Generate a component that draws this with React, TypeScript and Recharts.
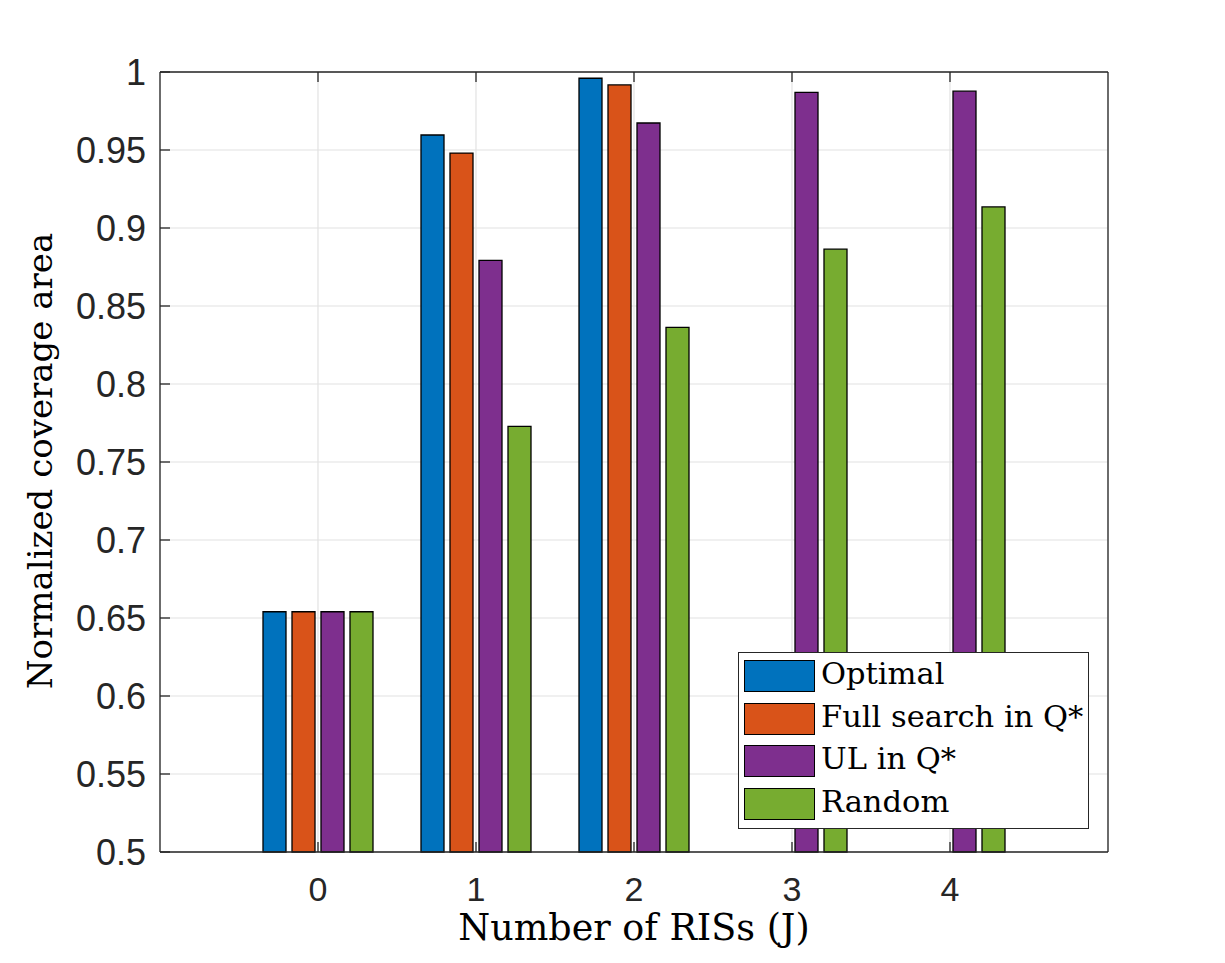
import React from 'react';
import { BarChart, Bar, XAxis, YAxis, CartesianGrid, Legend, Label } from 'recharts';

const categories = ['0', '1', '2', '3', '4'];
const optimal = [0.654, 0.9596, 0.996, null, null];
const fullSearch = [0.654, 0.948, 0.9917, null, null];
const ulInQ = [0.654, 0.8793, 0.9673, 0.987, 0.9877];
const random = [0.654, 0.7729, 0.8363, 0.8864, 0.9135];
const yTicks = [0.5, 0.55, 0.6, 0.65, 0.7, 0.75, 0.8, 0.85, 0.9, 0.95, 1];
const seriesNames = ['Optimal', 'Full search in Q*', 'UL in Q*', 'Random'];
const seriesKeys = ['optimal', 'fullSearch', 'ulInQ', 'random'];
const seriesColors = ['#0072BD', '#D95319', '#7E2F8E', '#77AC30'];

const data = categories.map((c, i) => ({
  cat: c,
  optimal: optimal[i],
  fullSearch: fullSearch[i],
  ulInQ: ulInQ[i],
  random: random[i],
}));

const AXIS = '#262626';
const sans = '"Liberation Sans", Arial, sans-serif';
const yTickStyle = { fontFamily: sans, fontSize: 36, fill: AXIS };
const xTickStyle = { fontFamily: sans, fontSize: 34, fill: AXIS };
const serif = '"DejaVu Serif", serif';

const renderLegend = (props: any) => {
  const payload = [...(props.payload || [])].sort(
    (a: any, b: any) => seriesNames.indexOf(a.value) - seriesNames.indexOf(b.value)
  );
  return (
    <div
      style={{
        width: 351,
        height: 177,
        boxSizing: 'border-box',
        border: `1.3px solid ${AXIS}`,
        background: '#fff',
        padding: '7px 0 0 5px',
        fontFamily: serif,
        fontSize: 30.5,
        color: '#000',
      }}
    >
      {payload.map((e: any, i: number) => (
        <div key={i} style={{ display: 'flex', alignItems: 'center', height: 32, marginBottom: 10.67 }}>
          <div
            style={{
              width: 71,
              height: 32,
              boxSizing: 'border-box',
              border: '1.3px solid #000',
              background: e.color,
              flex: 'none',
            }}
          />
          <span style={{ marginLeft: 6, lineHeight: '32px', whiteSpace: 'nowrap', position: 'relative', top: -2 }}>
            {e.value}
          </span>
        </div>
      ))}
    </div>
  );
};

const YLabel = (p: any) => {
  const vb = p.viewBox;
  const cx = vb.x + 52;
  const cy = vb.y + vb.height / 2 - 1;
  return (
    <text
      x={cx}
      y={cy}
      transform={`rotate(-90, ${cx}, ${cy})`}
      textAnchor="middle"
      fontFamily={serif}
      fontSize={34}
      fill="#000"
    >
      Normalized coverage area
    </text>
  );
};

const XLabel = (p: any) => {
  const vb = p.viewBox;
  return (
    <text x={vb.x + vb.width / 2} y={vb.y + 88} textAnchor="middle" fontFamily={serif} fontSize={36.5} fill="#000">
      Number of RISs (J)
    </text>
  );
};

const Empty = () => <g />;

export default function App() {
  return (
    <div style={{ position: 'absolute', left: 0, top: 0, width: 1225, height: 963, background: '#fff' }}>
      <BarChart
        width={1225}
        height={963}
        data={data}
        margin={{ top: 71, right: 116, bottom: 0, left: 0 }}
        barGap={6}
        barCategoryGap={24}
      >
        <CartesianGrid stroke="#e2e2e2" strokeWidth={1.2} />
        <XAxis
          dataKey="cat"
          height={111}
          padding={{ left: 79, right: 79 }}
          interval={0}
          tickSize={-10}
          tickMargin={35}
          tick={xTickStyle}
          axisLine={{ stroke: AXIS, strokeWidth: 1.3 }}
          tickLine={{ stroke: AXIS, strokeWidth: 1.3 }}
        >
          <Label content={XLabel} />
        </XAxis>
        <XAxis
          xAxisId="top"
          orientation="top"
          dataKey="cat"
          height={1}
          padding={{ left: 79, right: 79 }}
          interval={0}
          tickSize={-10}
          tick={Empty}
          axisLine={{ stroke: AXIS, strokeWidth: 1.3 }}
          tickLine={{ stroke: AXIS, strokeWidth: 1.3 }}
        />
        <YAxis
          type="number"
          domain={[0.5, 1]}
          ticks={yTicks}
          interval={0}
          width={160}
          tickSize={-10}
          tickMargin={24}
          tick={yTickStyle}
          axisLine={{ stroke: AXIS, strokeWidth: 1.3 }}
          tickLine={{ stroke: AXIS, strokeWidth: 1.3 }}
        >
          <Label content={YLabel} />
        </YAxis>
        <YAxis
          yAxisId="right"
          orientation="right"
          type="number"
          domain={[0.5, 1]}
          ticks={yTicks}
          interval={0}
          width={1}
          tickSize={-10}
          tick={Empty}
          axisLine={{ stroke: AXIS, strokeWidth: 1.3 }}
          tickLine={{ stroke: AXIS, strokeWidth: 1.3 }}
        />
        {seriesKeys.map((k, i) => (
          <Bar
            key={k}
            dataKey={k}
            name={seriesNames[i]}
            fill={seriesColors[i]}
            stroke="#000"
            strokeWidth={1.3}
            isAnimationActive={false}
          />
        ))}
        <Legend
          layout="vertical"
          align="center"
          verticalAlign="middle"
          content={renderLegend}
          wrapperStyle={{ left: 738, top: 652, width: 351, height: 177 }}
        />
      </BarChart>
    </div>
  );
}
